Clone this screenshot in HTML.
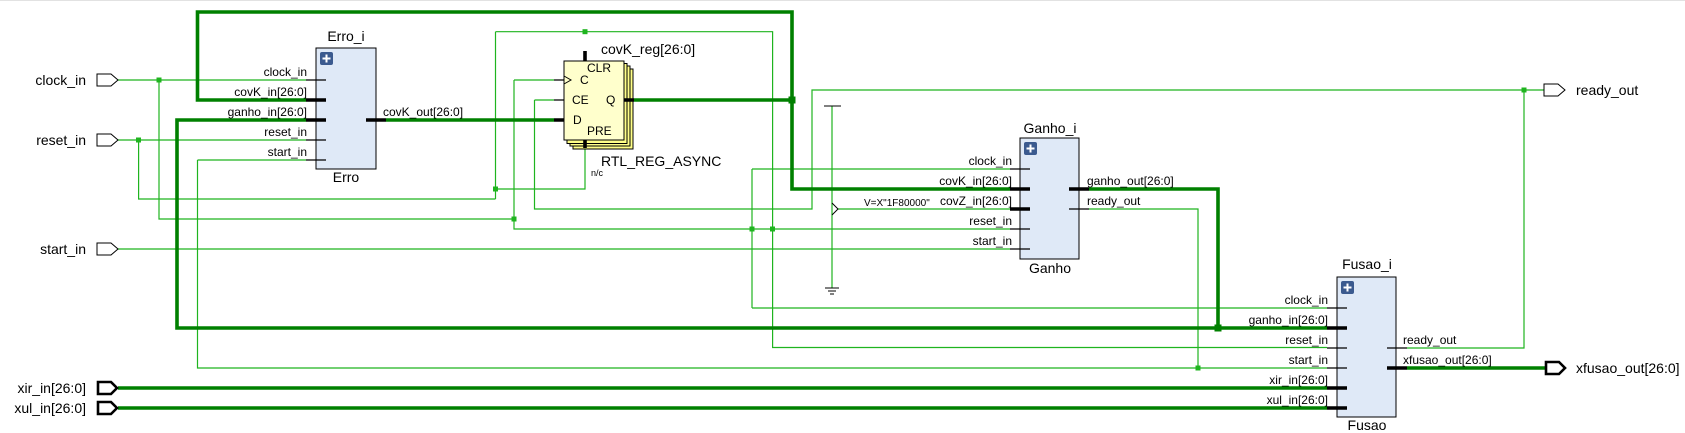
<!DOCTYPE html>
<html><head><meta charset="utf-8"><style>
html,body{margin:0;padding:0;background:#fff;}
svg{display:block;}
text{font-family:"Liberation Sans",sans-serif;fill:#000;}
.g{stroke:#1fb41f;stroke-width:1.2;fill:none;}
.t{stroke:#008000;stroke-width:3.6;fill:none;}
.s{stroke:#000;stroke-width:1.2;}
.b{stroke:#000;stroke-width:3.6;}
.p{font-size:12px;}
.e{text-anchor:end;}
.c{text-anchor:middle;}
</style></head><body>
<svg width="1685" height="433" viewBox="0 0 1685 433" xmlns="http://www.w3.org/2000/svg">
<line x1="0" y1="0.5" x2="1685" y2="0.5" stroke="#e2e2e2" stroke-width="1"/>
<!-- thin green nets -->
<path class="g" d="M118,80H306 M159,80V219H514 M514,80V229H1010 M514,80H554 M752,169V308 M752,169H1010 M752,308H1327"/>
<path class="g" d="M118,140H306 M138.6,140V199H495.5 M495.5,31.7V199 M495.5,189H585V148 M495.5,31.7H772.6V347.5H1327"/>
<path class="g" d="M197.5,160H306 M197.5,160V368H1327 M118,249H1010"/>
<path class="g" d="M534.5,100H554 M534.5,100V209H812V90H1544 M1407,348H1524V90 M1089,209H1198V368"/>
<path class="g" d="M832,106V288 M838,209H1010"/>
<path stroke="#000" stroke-width="1" fill="none" d="M824,106H841 M832,203L838,209L832,215 M825,288H839 M828,291H836 M830,294H834"/>
<!-- thick buses -->
<path class="t" d="M306,100H197.5V12H792V189H1010 M634,100H792"/>
<path class="t" d="M306,120H177V328H1327 M1218,328V189H1089"/>
<path class="t" d="M386,120H554 M118,388H1327 M118,408H1327 M1407,368H1545"/>
<!-- junctions -->
<g fill="#1fb41f">
<rect x="156.5" y="77.5" width="5" height="5"/><rect x="136" y="137.5" width="5" height="5"/>
<rect x="493" y="186.5" width="5" height="5"/><rect x="511.5" y="216.5" width="5" height="5"/>
<rect x="749.5" y="226.5" width="5" height="5"/><rect x="770" y="226.5" width="5" height="5"/>
<rect x="582.5" y="29.2" width="5" height="5"/><rect x="1521.5" y="87.5" width="5" height="5"/>
<rect x="1195.5" y="365.5" width="5" height="5"/>
</g>
<g fill="#008000"><rect x="788.5" y="96.5" width="7" height="7"/><rect x="1214.5" y="324.5" width="7" height="7"/></g>
<!-- ports -->
<g fill="#fff" stroke="#000" stroke-width="1">
<path d="M97,74H111L118,80L111,86H97Z"/>
<path d="M97,134H111L118,140L111,146H97Z"/>
<path d="M97,243H111L118,249L111,255H97Z"/>
<path d="M1544,84H1558L1565,90L1558,96H1544Z"/>
</g>
<g fill="#fff" stroke="#000" stroke-width="2.6">
<path d="M98,382H111L117,388L111,394H98Z"/>
<path d="M98,402H111L117,408L111,414H98Z"/>
<path d="M1546,362H1559L1565,368L1559,374H1546Z"/>
</g>
<!-- boxes -->
<g stroke="#000" stroke-width="1">
<rect x="316" y="48" width="60" height="121" fill="#dfe9f7"/>
<rect x="1020" y="138" width="59" height="121" fill="#dfe9f7"/>
<rect x="1337" y="277" width="59" height="140" fill="#dfe9f7"/>
<rect x="573" y="69" width="60" height="80" fill="#ffff88"/>
<rect x="570" y="66" width="60" height="80" fill="#ffff88"/>
<rect x="567" y="63.5" width="60" height="80" fill="#ffff88"/>
<rect x="564" y="61" width="60" height="79" fill="#ffffcc"/>
</g>
<!-- plus icons -->
<g>
<rect x="320" y="52" width="13" height="13" rx="2" fill="#3b5a8f"/><path d="M326.5,54.5V62.5M322.5,58.5H330.5" stroke="#fff" stroke-width="2"/>
<rect x="1024" y="142" width="13" height="13" rx="2" fill="#3b5a8f"/><path d="M1030.5,144.5V152.5M1026.5,148.5H1034.5" stroke="#fff" stroke-width="2"/>
<rect x="1341" y="281" width="13" height="13" rx="2" fill="#3b5a8f"/><path d="M1347.5,283.5V291.5M1343.5,287.5H1351.5" stroke="#fff" stroke-width="2"/>
</g>
<!-- stubs -->
<path class="s" d="M306,80H326M306,140H326M306,160H326 M1010,169H1030M1010,229H1030M1010,249H1030M1069,209H1089 M1327,308H1347M1327,348H1347M1327,368H1347M1387,348H1407 M554,80H564M554,100H564"/>
<path class="b" d="M306,100H326M306,120H326M366,120H386 M1010,189H1030M1010,209H1030M1069,189H1089 M1327,328H1347M1327,388H1347M1327,408H1347M1387,368H1407 M554,120H564M624,100H634M585,51V61M585,140V148"/>
<path d="M564,76L571,80L564,84" fill="none" stroke="#000" stroke-width="1"/>
<!-- text -->
<g font-size="14">
<text x="86" y="85" class="e">clock_in</text>
<text x="86" y="145" class="e">reset_in</text>
<text x="86" y="254" class="e">start_in</text>
<text x="86" y="393" class="e">xir_in[26:0]</text>
<text x="86" y="413" class="e">xul_in[26:0]</text>
<text x="1576" y="95">ready_out</text>
<text x="1576" y="373">xfusao_out[26:0]</text>
<text x="346" y="41" class="c">Erro_i</text>
<text x="346" y="182" class="c">Erro</text>
<text x="1050" y="133" class="c">Ganho_i</text>
<text x="1050" y="273" class="c">Ganho</text>
<text x="1367" y="269" class="c">Fusao_i</text>
<text x="1367" y="430" class="c">Fusao</text>
<text x="601" y="54">covK_reg[26:0]</text>
<text x="601" y="166">RTL_REG_ASYNC</text>
</g>
<g class="p">
<text x="307" y="76" class="e">clock_in</text>
<text x="307" y="96" class="e">covK_in[26:0]</text>
<text x="307" y="116" class="e">ganho_in[26:0]</text>
<text x="307" y="136" class="e">reset_in</text>
<text x="307" y="156" class="e">start_in</text>
<text x="383" y="116">covK_out[26:0]</text>
<text x="1012" y="165" class="e">clock_in</text>
<text x="1012" y="185" class="e">covK_in[26:0]</text>
<text x="1012" y="205" class="e">covZ_in[26:0]</text>
<text x="1012" y="225" class="e">reset_in</text>
<text x="1012" y="245" class="e">start_in</text>
<text x="1087" y="185">ganho_out[26:0]</text>
<text x="1087" y="205">ready_out</text>
<text x="1328" y="304" class="e">clock_in</text>
<text x="1328" y="324" class="e">ganho_in[26:0]</text>
<text x="1328" y="344" class="e">reset_in</text>
<text x="1328" y="364" class="e">start_in</text>
<text x="1328" y="384" class="e">xir_in[26:0]</text>
<text x="1328" y="404" class="e">xul_in[26:0]</text>
<text x="1403" y="344">ready_out</text>
<text x="1403" y="364">xfusao_out[26:0]</text>
<text x="587" y="72">CLR</text>
<text x="580" y="84">C</text>
<text x="572" y="104">CE</text>
<text x="573" y="124">D</text>
<text x="606" y="104">Q</text>
<text x="587" y="135">PRE</text>
</g>
<text x="591" y="176" font-size="9">n/c</text>
<text x="864" y="206" font-size="10">V=X"1F80000"</text>
</svg>
</body></html>
